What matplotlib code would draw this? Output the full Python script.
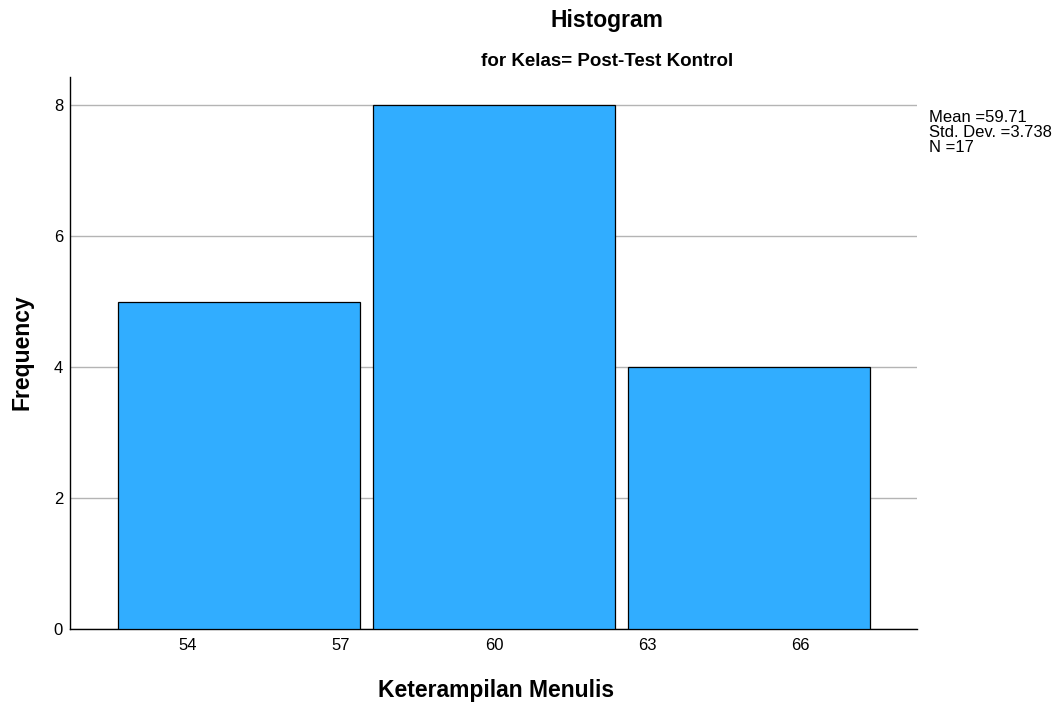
import numpy as np
import matplotlib.pyplot as plt

plt.rcParams['font.family'] = ['Liberation Sans', 'DejaVu Sans']

# histogram bins (centres) and counts
bin_centers = [55, 60, 65]
counts = [5, 8, 4]
bin_width = 5
xticks = [54, 57, 60, 63, 66]
yticks = [0, 2, 4, 6, 8]
stats = ["Mean =59.71", "Std. Dev. =3.738", "N =17"]

W, H = 1052, 705
fig = plt.figure(figsize=(W/100, H/100), dpi=100)
ax = fig.add_axes([70/W, (H-629)/H, (917-70)/W, (629-77)/H])

ax.bar(bin_centers, counts, width=bin_width*0.948, color='#31adff',
       edgecolor='black', linewidth=0.9, zorder=3)

ax.set_xlim(51.69, 68.29)
ax.set_ylim(0, 8.43)
ax.set_xticks(xticks)
ax.set_yticks(yticks)
ax.tick_params(length=0, labelsize=12)
ax.tick_params(axis='x', pad=6.5)
ax.tick_params(axis='y', pad=5)
ax.yaxis.grid(True, color='#b4b4b4', linewidth=1, zorder=0)
for s in ['top', 'right']:
    ax.spines[s].set_visible(False)
for s in ['left', 'bottom']:
    ax.spines[s].set_linewidth(1)

fig.text(607/W, 1-21/H, "Histogram", ha='center', va='center',
         fontsize=16.5, fontweight='bold')
fig.text(607/W, 1-62/H, "for Kelas= Post-Test Kontrol", ha='center',
         va='center', fontsize=13.5, fontweight='bold')
fig.text(496/W, 1-690/H, "Keterampilan Menulis", ha='center', va='center',
         fontsize=16.5, fontweight='bold')
fig.text(22/W, 1-352/H, "Frequency", ha='center', va='center',
         rotation=90, fontsize=16.5, fontweight='bold')
for i, line in enumerate(stats):
    fig.text(929/W, 1-(117 + 15.5*i)/H, line, ha='left', va='center',
             fontsize=12)

fig.savefig('out.png', dpi=100)
